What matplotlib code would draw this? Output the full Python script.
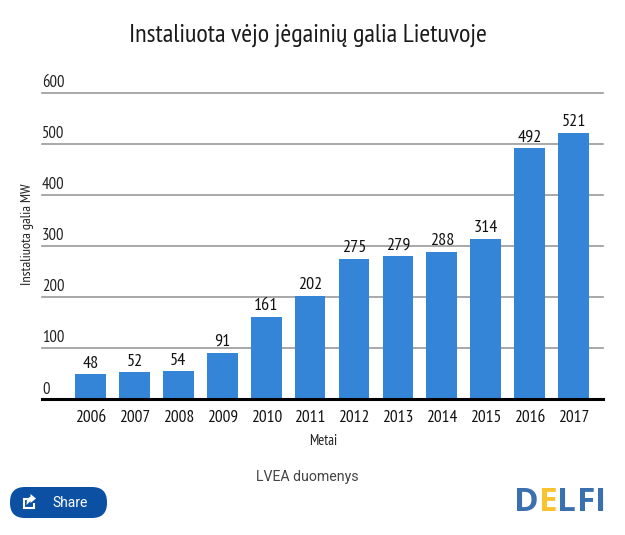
import matplotlib
matplotlib.use('Agg')
import matplotlib.pyplot as plt
from matplotlib.patches import FancyBboxPatch, Polygon

# 글꼴: 좁은 글꼴 우선
NARROW = ['PT Sans Narrow', 'Roboto', 'DejaVu Sans']
plt.rcParams['font.family'] = NARROW

years = ['2006', '2007', '2008', '2009', '2010', '2011',
         '2012', '2013', '2014', '2015', '2016', '2017']
values = [48, 52, 54, 91, 161, 202, 275, 279, 288, 314, 492, 521]
y_ticks = [0, 100, 200, 300, 400, 500, 600]

BLUE = '#3485d8'
NAVY = '#0c50a3'
W, H = 625, 535

fig = plt.figure(figsize=(W / 100, H / 100), dpi=100, facecolor='white')
ax = fig.add_axes([42 / W, 1 - 399 / H, (603 - 42) / W, (399 - 92.5) / H])

pos = list(range(len(years)))
ax.bar(pos, values, width=0.7, color=BLUE, zorder=3)
ax.set_xlim(-1.105, 11.67)
ax.set_ylim(0, 600)

# 격자선
for v in y_ticks[1:]:
    ax.axhline(v, color='#9a9a9a', lw=1.2, zorder=1, clip_on=False)
ax.axhline(0, color='black', lw=2.2, zorder=4, clip_on=False)

for s in ax.spines.values():
    s.set_visible(False)
ax.set_yticks([])
ax.set_xticks(pos)
ax.set_xticklabels(years, fontsize=12.5, color='#111111')
ax.tick_params(axis='x', length=0, pad=8)

# y축 눈금 글자는 선 위에 표시
for v in y_ticks:
    ax.annotate(str(v), xy=(0, v), xycoords=ax.get_yaxis_transform(),
                xytext=(0, 9.5), textcoords='offset pixels',
                ha='left', va='center', fontsize=12, color='#222222')

# 막대 값 표시
for p, v in zip(pos, values):
    ax.annotate(str(v), xy=(p, v), xytext=(0, 10.5), textcoords='offset pixels',
                ha='center', va='center', fontsize=13, color='#111111', zorder=5)

# 픽셀 좌표용 오버레이
ov = fig.add_axes([0, 0, 1, 1], facecolor='none')
ov.set_xlim(0, W)
ov.set_ylim(H, 0)
ov.axis('off')

ov.text(307.5, 35, 'Instaliuota vėjo jėgainių galia Lietuvoje', ha='center', va='center',
        fontsize=18.9, color='#1a1a1a')
ov.text(27, 234, 'Instaliuota galia MW', rotation=90, ha='center', va='center',
        fontsize=10.3, color='#222222')
ov.text(323, 441, 'Metai', ha='center', va='center', fontsize=10.5, color='#222222')
ov.text(307, 477, 'LVEA duomenys', ha='center', va='center', fontsize=10.2,
        family=['Roboto', 'DejaVu Sans'], color='#444444')

# Share 버튼
ov.add_patch(FancyBboxPatch((10 + 15, 487 + 15), 97 - 30, 31 - 30,
                            boxstyle='round,pad=15', fc=NAVY, ec='none'))
ov.plot([29, 24, 24, 34, 34], [499, 499, 508, 508, 503], color='white', lw=1.5,
        solid_joinstyle='miter', solid_capstyle='butt')
ov.add_patch(Polygon([[36, 498.5], [30.5, 494], [30.5, 496.5], [27, 499], [26.5, 505],
                      [30.5, 501], [30.5, 503]], closed=True, fc='white', ec='none'))
ov.text(70, 503, 'Share', ha='center', va='center', fontsize=10,
        family=['Roboto', 'DejaVu Sans'], color='white')

# DELFI 로고
logo_letters = ['D', 'E', 'L', 'F', 'I']
logo_x = [514, 538.5, 557.5, 577, 595]
logo_c = ['#3a6fb0', '#f9c22e', '#3a6fb0', '#3a6fb0', '#3a6fb0']
for ch, x, c in zip(logo_letters, logo_x, logo_c):
    ov.text(x, 511, ch, ha='left', va='baseline', fontsize=24, fontweight='bold',
            family=['Open Sans', 'DejaVu Sans'], color=c)

fig.savefig('out.png', dpi=100)
